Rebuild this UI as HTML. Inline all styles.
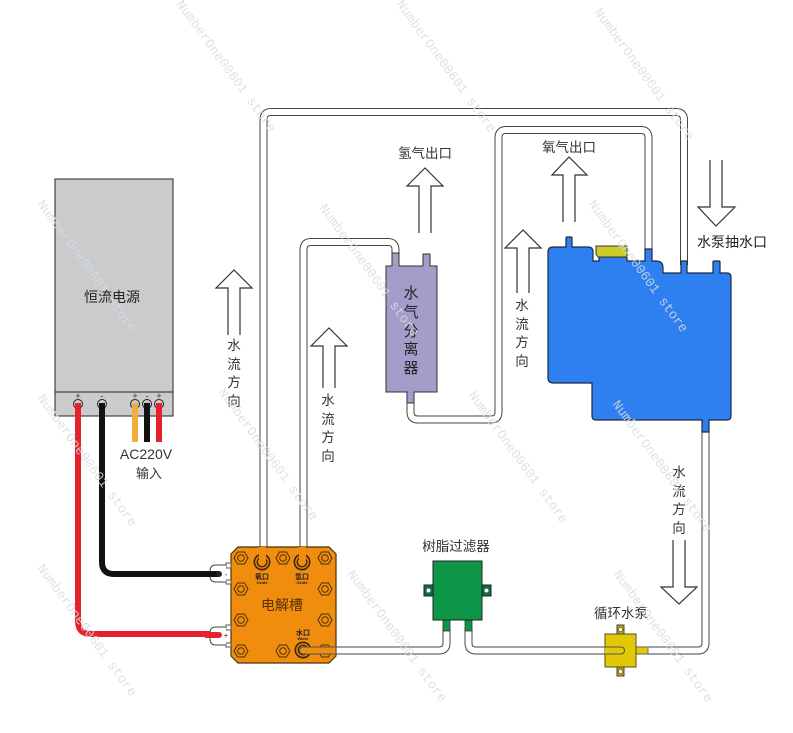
<!DOCTYPE html>
<html><head><meta charset="utf-8"><style>
html,body{margin:0;padding:0;background:#fff;width:793px;height:733px;overflow:hidden}
svg{display:block}
text{font-family:"Liberation Sans","Noto Sans CJK SC",sans-serif;fill:#333;text-anchor:middle}
.wm{font-family:"Liberation Mono","DejaVu Sans Mono",monospace;font-size:13.3px;fill:#d8dce1;opacity:.85;text-anchor:start}
.arrow{fill:#fff;stroke:#333;stroke-width:1.2}
.po{fill:none;stroke:#444;stroke-width:8}
.pi{fill:none;stroke:#fff;stroke-width:6}
.l{font-size:13.5px}
</style></head><body>
<svg width="793" height="733" viewBox="0 0 793 733" xmlns="http://www.w3.org/2000/svg">
<defs>
<g id="bolt"><polygon points="-7,0 -3.5,-6 3.5,-6 7,0 3.5,6 -3.5,6" fill="#f08c0e" stroke="#4a3208" stroke-width="1"/><circle r="3.3" fill="none" stroke="#4a3208" stroke-width="1"/></g>
<g id="port"><circle r="8.5" fill="#3a2a10"/><circle r="6.8" fill="#f08c0e"/><circle r="5.4" fill="#3a2a10"/><circle r="4" fill="#f08c0e"/></g>
</defs>

<!-- power supply -->
<rect x="55" y="179" width="118" height="237" fill="#c9cbcc" stroke="#222" stroke-width="1"/>
<line x1="55" y1="392" x2="173" y2="392" stroke="#222" stroke-width="1"/>
<text x="112" y="302" style="font-size:14px;fill:#222">恒流电源</text>
<g fill="none" stroke="#222" stroke-width="1">
<circle cx="78" cy="404" r="4.5"/><circle cx="102" cy="404" r="4.5"/><circle cx="135" cy="404" r="4.5"/><circle cx="147" cy="404" r="4.5"/><circle cx="159" cy="404" r="4.5"/>
</g>
<g style="font-size:9px"><text x="78" y="399">+</text><text x="102" y="399">-</text><text x="135" y="399">+</text><text x="147" y="399">-</text><text x="159" y="399">+</text></g>

<!-- wires -->
<path d="M78,403 V621 Q78,634 91,634 H212" fill="none" stroke="#e5222c" stroke-width="6"/>
<path d="M102,403 V562 Q102,574 114,574 H214" fill="none" stroke="#111" stroke-width="6"/>
<line x1="135" y1="403" x2="135" y2="442" stroke="#f0ad3e" stroke-width="6"/>
<line x1="147" y1="403" x2="147" y2="442" stroke="#111" stroke-width="6"/>
<line x1="159" y1="403" x2="159" y2="442" stroke="#e5222c" stroke-width="6"/>
<text x="146" y="459" style="font-size:14px">AC220V</text>
<text x="149" y="478" style="font-size:13px">输入</text>

<!-- pipes -->
<g>
<path class="po" d="M263.500,550 V120 Q263.500,112 271,112 H676 Q684,112 684,120 V265"/>
<path class="pi" d="M263.500,550 V120 Q263.500,112 271,112 H676 Q684,112 684,120 V265"/>
<path class="po" d="M303.500,550 V250 Q303.500,242 311,242 H388 Q395.500,242 395.500,250 V256"/>
<path class="pi" d="M303.500,550 V250 Q303.500,242 311,242 H388 Q395.500,242 395.500,250 V256"/>
<path class="po" d="M410.500,400 V412 Q410.500,419.500 418,419.500 H491 Q498.500,419.500 498.500,412 V138 Q498.500,130 506,130 H641 Q648.500,130 648.500,138 V252"/>
<path class="pi" d="M410.500,400 V412 Q410.500,419.500 418,419.500 H491 Q498.500,419.500 498.500,412 V138 Q498.500,130 506,130 H641 Q648.500,130 648.500,138 V252"/>
<path class="po" d="M624,650.500 H698 Q705.500,650.500 705.500,643 V430"/>
<path class="pi" d="M624,650.500 H698 Q705.500,650.500 705.500,643 V430"/>
<path class="po" d="M624,650.500 H476 Q468.500,650.500 468.500,643 V628"/>
<path class="pi" d="M624,650.500 H476 Q468.500,650.500 468.500,643 V628"/>
<path class="po" d="M303,650.500 H439 Q446.500,650.500 446.500,643 V628"/>
<path class="pi" d="M303,650.500 H439 Q446.500,650.500 446.500,643 V628"/>
</g>

<!-- separator -->
<path d="M392,266 V253 H399 V266 H423 V254 H430 V266 H437 V392 H414 V403 H407 V392 H386 V266 Z" fill="#a69cca" stroke="#333" stroke-width="1"/>
<g style="font-size:15px;fill:#222"><text x="411" y="298" style="fill:#222">水</text><text x="411" y="317" style="fill:#222">气</text><text x="411" y="336" style="fill:#222">分</text><text x="411" y="354" style="fill:#222">离</text><text x="411" y="373" style="fill:#222">器</text></g>

<!-- blue tank -->
<path d="M553,247 H566 V238 Q566,237 567,237 H571 Q572,237 572,238 V247 H588 Q593,247 593,252 V261 H599 V257 H627 V261 H645 V249 H652 V261 H656 Q663,261 663,268 V273 H681 V261 H687 V273 H713 V262 Q713,261 714,261 H719 Q720,261 720,262 V273 H727 Q731,273 731,277 V416 Q731,420 727,420 H709 V432 H702 V420 H596 Q592,420 592,416 V383 H553 Q548,383 548,378 V252 Q548,247 553,247 Z" fill="#2e7ff0" stroke="#1c2a3c" stroke-width="1.200"/>
<path d="M596,246 H627 V257 H598 L596,254 Z" fill="#cfcb2a" stroke="#333" stroke-width="1"/>

<!-- electrolyzer -->
<path d="M238,547 H329 L336,554 V656 L329,663 H238 L231,656 V554 Z" fill="#f08c0e" stroke="#4a3208" stroke-width="1.200"/>
<rect x="226" y="563" width="5" height="5" fill="#fff" stroke="#555"/><rect x="226" y="580" width="5" height="4" fill="#fff" stroke="#555"/>
<rect x="226" y="625" width="5" height="5" fill="#fff" stroke="#555"/><rect x="226" y="643" width="5" height="4" fill="#fff" stroke="#555"/>
<path d="M226,565 H216 Q210,565 210,571 V576 Q210,582 216,582 H226" fill="#fff" stroke="#444"/>
<path d="M226,627 H216 Q210,627 210,633 V639 Q210,645 216,645 H226" fill="#fff" stroke="#444"/>
<line x1="205" y1="574" x2="218" y2="574" stroke="#111" stroke-width="6"/><circle cx="219" cy="574" r="3" fill="#222"/>
<line x1="205" y1="635" x2="218" y2="635" stroke="#e5222c" stroke-width="6"/><circle cx="219" cy="635" r="3" fill="#e5222c"/>
<text x="226" y="577" style="font-size:8px">-</text><text x="226" y="638" style="font-size:8px">+</text>
<use href="#bolt" x="241" y="558"/><use href="#bolt" x="283" y="558"/><use href="#bolt" x="325" y="558"/>
<use href="#bolt" x="241" y="589"/><use href="#bolt" x="325" y="589"/>
<use href="#bolt" x="241" y="620"/><use href="#bolt" x="325" y="620"/>
<use href="#bolt" x="241" y="651"/><use href="#bolt" x="283" y="651"/><use href="#bolt" x="325" y="651"/>
<use href="#port" x="262" y="562"/><use href="#port" x="302" y="562"/><use href="#port" x="303" y="650"/>
<rect x="259" y="547" width="7" height="16" fill="#f08c0e"/>
<rect x="299" y="547" width="7" height="16" fill="#f08c0e"/>
<path d="M303,647 H336 V654 H303 A3.500,3.500 0 0 1 303,647 Z" fill="#f08c0e" stroke="#555"/>
<g style="font-size:7px;font-weight:bold"><text x="262" y="579" style="fill:#222">氧口</text><text x="302" y="579" style="fill:#222">氢口</text><text x="303" y="635" style="fill:#222">水口</text></g>
<g style="font-size:4px;font-weight:bold"><text x="262" y="584" style="fill:#222">Oxide</text><text x="302" y="584" style="fill:#222">Oxide</text><text x="303" y="640" style="fill:#222">Water</text></g>
<text x="282" y="610" style="font-size:14px;fill:#5a3206">电解槽</text>

<!-- filter -->
<rect x="424" y="585" width="9" height="11" fill="#0b6e3c" stroke="#222"/><rect x="482" y="585" width="9" height="11" fill="#0b6e3c" stroke="#222"/>
<circle cx="428.500" cy="590.500" r="2" fill="#fff"/><circle cx="486.500" cy="590.500" r="2" fill="#fff"/>
<rect x="443" y="620" width="7" height="11" fill="#0d9648" stroke="#333" stroke-width=".8"/><rect x="465" y="620" width="7" height="11" fill="#0d9648" stroke="#333" stroke-width=".8"/>
<rect x="433" y="561" width="49" height="59" fill="#0d9648" stroke="#222" stroke-width="1"/>
<text x="456" y="551" class="l">树脂过滤器</text>

<!-- pump -->
<rect x="617" y="625" width="7" height="9" fill="#b89e10" stroke="#444"/><rect x="617" y="667" width="7" height="9" fill="#b89e10" stroke="#444"/>
<circle cx="620.500" cy="629.500" r="2" fill="#fff" stroke="#444" stroke-width=".6"/><circle cx="620.500" cy="671.500" r="2" fill="#fff" stroke="#444" stroke-width=".6"/>
<rect x="636" y="647" width="12" height="7" fill="#e3c807" stroke="#555" stroke-width=".8"/>
<rect x="605" y="634" width="31" height="33" fill="#e3c807" stroke="#55501a" stroke-width="1"/>
<path d="M605,647 H621 A3.500,3.500 0 0 1 621,654 H605" fill="#e3c807" stroke="#555" stroke-width="1"/>
<text x="621" y="618" class="l">循环水泵</text>

<!-- arrows -->
<path class="arrow" d="M228,335 V288 H216 L234,270 L252,288 H240 V335"/>
<path class="arrow" d="M323,388 V346 H311 L329,328 L347,346 H335 V388"/>
<path class="arrow" d="M419,233 V186 H407 L425,168 L443,186 H431 V233"/>
<path class="arrow" d="M563,222 V175 H552 L569,157 L587,175 H575 V222"/>
<path class="arrow" d="M517,293 V248 H505 L523,230 L541,248 H529 V293"/>
<path class="arrow" d="M710,160 V207 H698 L716,226 L735,207 H722 V160"/>
<path class="arrow" d="M673,540 V587 H661 L679,604 L697,587 H685 V540"/>

<!-- labels -->
<text x="425" y="158" class="l">氢气出口</text>
<text x="569" y="152" class="l">氧气出口</text>
<text x="732" y="247" style="font-size:14px;fill:#222">水泵抽水口</text>
<g class="l">
<text x="234" y="350">水</text><text x="234" y="369">流</text><text x="234" y="387">方</text><text x="234" y="406">向</text>
<text x="328" y="405">水</text><text x="328" y="424">流</text><text x="328" y="442">方</text><text x="328" y="461">向</text>
<text x="522" y="310">水</text><text x="522" y="329">流</text><text x="522" y="347">方</text><text x="522" y="366">向</text>
<text x="679" y="477">水</text><text x="679" y="496">流</text><text x="679" y="514">方</text><text x="679" y="533">向</text>
</g>

<!-- watermark -->
<g>
<text class="wm" transform="translate(176,4) rotate(54)">NumberOne00601 store</text>
<text class="wm" transform="translate(396,4) rotate(54)">NumberOne00601 store</text>
<text class="wm" transform="translate(594,12) rotate(54)">NumberOne00601 store</text>
<text class="wm" transform="translate(37,204) rotate(54)">NumberOne00601 store</text>
<text class="wm" transform="translate(319,208) rotate(54)">NumberOne00601 store</text>
<text class="wm" transform="translate(588,204) rotate(54)">NumberOne00601 store</text>
<text class="wm" transform="translate(37,398) rotate(54)">NumberOne00601 store</text>
<text class="wm" transform="translate(218,392) rotate(54)">NumberOne00601 store</text>
<text class="wm" transform="translate(468,395) rotate(54)">NumberOne00601 store</text>
<text class="wm" transform="translate(612,404) rotate(54)">NumberOne00601 store</text>
<text class="wm" transform="translate(37,568) rotate(54)">NumberOne00601 store</text>
<text class="wm" transform="translate(347,574) rotate(54)">NumberOne00601 store</text>
<text class="wm" transform="translate(613,574) rotate(54)">NumberOne00601 store</text>
</g>
</svg>
</body></html>
